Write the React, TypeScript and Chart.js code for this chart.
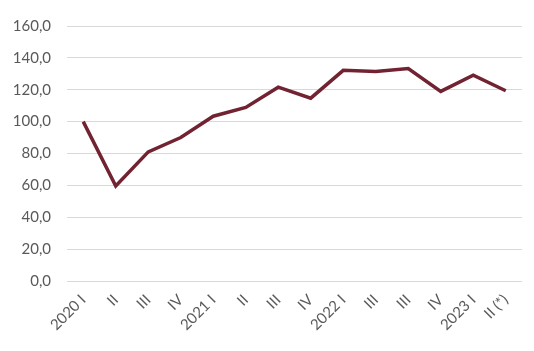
import React, { useEffect, useRef } from "react";
import { Chart, registerables } from "chart.js";

Chart.register(...registerables);

const categories = ["2020 I", "II", "III", "IV", "2021 I", "II", "III", "IV", "2022 I", "III", "III", "IV", "2023 I", "II (*)"];
const values = [100.0, 59.6, 81.0, 90.0, 103.4, 108.9, 121.6, 114.7, 132.2, 131.4, 133.3, 119.0, 129.2, 119.4];
const yMin = 0;
const yMax = 160;
const yStep = 20;

export default function App() {
  const ref = useRef<HTMLCanvasElement | null>(null);
  useEffect(() => {
    document.body.style.margin = "0";
    const ctx = ref.current!;
    const chart = new Chart(ctx, {
      type: "line",
      data: {
        labels: categories,
        datasets: [
          {
            data: values,
            borderColor: "#722331",
            borderWidth: 3.5,
            pointRadius: 0,
            tension: 0,
            fill: false,
          },
        ],
      },
      options: {
        animation: false,
        responsive: false,
        devicePixelRatio: 1,
        layout: { padding: { top: 26, right: 12, left: 0, bottom: 0 } },
        plugins: { legend: { display: false }, tooltip: { enabled: false } },
        scales: {
          x: {
            offset: true,
            grid: { display: false, drawTicks: false },
            border: { display: false },
            ticks: {
              color: "#595959",
              font: { family: "Lato", size: 15 },
              minRotation: 45,
              maxRotation: 45,
              padding: 10,
              autoSkip: false,
            },
            afterFit: (s: any) => {
              s.height = 70;
            },
          },
          y: {
            min: yMin,
            max: yMax,
            grid: { color: "#d9d9d9", lineWidth: 1, drawTicks: false },
            border: { display: false },
            ticks: {
              stepSize: yStep,
              color: "#595959",
              font: { family: "Lato", size: 15 },
              padding: 16,
              callback: (v: any) => Number(v).toFixed(1).replace(".", ","),
            },
            afterFit: (s: any) => {
              s.width = 67;
            },
          },
        },
      },
    });
    return () => chart.destroy();
  }, []);
  return (
    <div style={{ width: 534, height: 351, position: "relative" }}>
      <canvas ref={ref} width={534} height={351} style={{ display: "block" }} />
    </div>
  );
}
